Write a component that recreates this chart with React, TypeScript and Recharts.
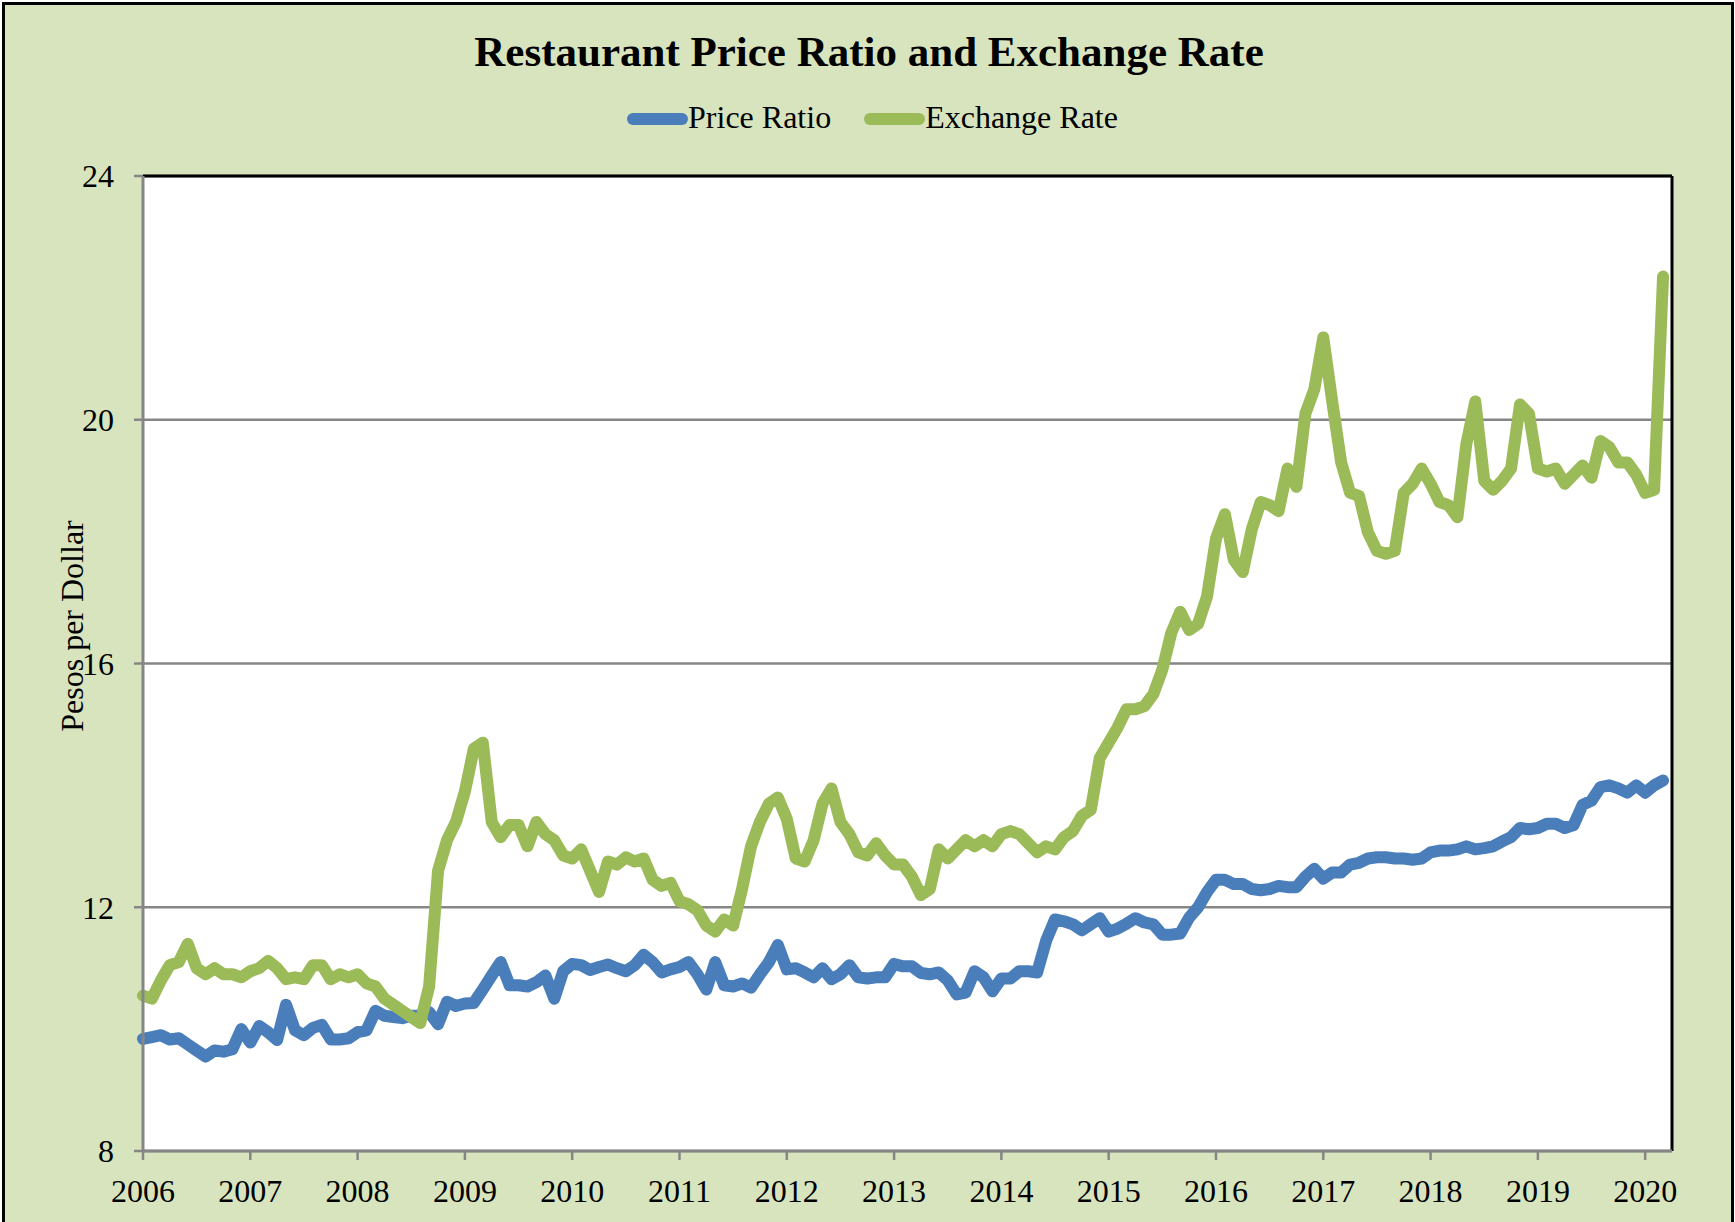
import React from 'react'
import { LineChart, Line, XAxis, YAxis, CartesianGrid, Legend, ReferenceLine } from 'recharts'

const BLUE = '#4A7EBB'
const GREEN = '#9BBB59'
const BG = '#D7E4BD'
const GRID = '#868686'
const FONT = '"Liberation Serif", "Times New Roman", serif'

const YEARS = [2006, 2007, 2008, 2009, 2010, 2011, 2012, 2013, 2014, 2015, 2016, 2017, 2018, 2019, 2020]
const Y_TICKS = [8, 12, 16, 20, 24]
const SERIES = [
  { key: 'priceRatio', name: 'Price Ratio', color: BLUE },
  { key: 'exchangeRate', name: 'Exchange Rate', color: GREEN },
]

// monthly, Jan 2006 .. Mar 2020
const priceRatio = [
  9.84, 9.87, 9.9, 9.83, 9.85, 9.75, 9.65, 9.55, 9.65, 9.63, 9.67, 10.0,
  9.78, 10.05, 9.95, 9.82, 10.4, 9.98, 9.9, 10.02, 10.07, 9.83, 9.83, 9.85,
  9.95, 9.98, 10.3, 10.22, 10.2, 10.18, 10.22, 10.22, 10.28, 10.08, 10.45, 10.38,
  10.42, 10.43, 10.65, 10.88, 11.1, 10.72, 10.72, 10.7, 10.77, 10.88, 10.5, 10.95,
  11.07, 11.05, 10.97, 11.02, 11.06, 11.0, 10.95, 11.05, 11.22, 11.1, 10.93, 10.98,
  11.02, 11.1, 10.9, 10.65, 11.1, 10.72, 10.7, 10.75, 10.68, 10.9, 11.1, 11.38,
  10.98, 11.0, 10.93, 10.85, 11.0, 10.82, 10.9, 11.05, 10.85, 10.83, 10.85, 10.85,
  11.07, 11.03, 11.03, 10.92, 10.9, 10.93, 10.8, 10.57, 10.6, 10.95, 10.85, 10.62,
  10.83, 10.83, 10.95, 10.95, 10.93, 11.45, 11.8, 11.77, 11.72, 11.62, 11.72, 11.82,
  11.6, 11.65, 11.73, 11.82, 11.75, 11.72, 11.55, 11.55, 11.57, 11.83, 12.0, 12.25,
  12.45, 12.45, 12.38, 12.38, 12.3, 12.28, 12.3, 12.35, 12.33, 12.33, 12.5, 12.63,
  12.47, 12.57, 12.57, 12.7, 12.73, 12.8, 12.82, 12.82, 12.8, 12.8, 12.78, 12.8,
  12.9, 12.93, 12.93, 12.95, 13.0, 12.95, 12.97, 13.0, 13.08, 13.15, 13.3, 13.28,
  13.3, 13.37, 13.37, 13.3, 13.35, 13.68, 13.75, 13.97, 14.0, 13.95, 13.88, 14.0,
  13.88, 14.0, 14.08,
]

const exchangeRate = [
  10.55, 10.5, 10.8, 11.05, 11.1, 11.4, 11.0, 10.9, 11.0, 10.9, 10.9, 10.85,
  10.95, 11.0, 11.12, 11.0, 10.82, 10.85, 10.82, 11.05, 11.05, 10.82, 10.9, 10.85,
  10.9, 10.75, 10.7, 10.5, 10.4, 10.3, 10.2, 10.1, 10.7, 12.6, 13.1, 13.4,
  13.9, 14.6, 14.7, 13.4, 13.15, 13.35, 13.35, 13.0, 13.4, 13.2, 13.1, 12.85,
  12.8, 12.95, 12.6, 12.25, 12.75, 12.7, 12.82, 12.75, 12.8, 12.45, 12.35, 12.4,
  12.1, 12.05, 11.95, 11.7, 11.6, 11.8, 11.7, 12.3, 13.0, 13.4, 13.7, 13.8,
  13.45, 12.8, 12.75, 13.1, 13.7, 13.95, 13.4, 13.2, 12.9, 12.85, 13.05, 12.85,
  12.7, 12.7, 12.5, 12.2, 12.3, 12.95, 12.8, 12.95, 13.1, 13.0, 13.1, 13.0,
  13.2, 13.25, 13.2, 13.05, 12.9, 13.0, 12.95, 13.15, 13.25, 13.5, 13.6, 14.45,
  14.7, 14.95, 15.25, 15.25, 15.3, 15.5, 15.9, 16.5, 16.85, 16.55, 16.65, 17.1,
  18.05, 18.45, 17.7, 17.5, 18.2, 18.65, 18.6, 18.5, 19.2, 18.9, 20.1, 20.5,
  21.35, 20.3, 19.3, 18.8, 18.75, 18.15, 17.85, 17.8, 17.85, 18.8, 18.95, 19.2,
  18.95, 18.65, 18.6, 18.4, 19.6, 20.3, 19.0, 18.85, 19.0, 19.2, 20.25, 20.1,
  19.2, 19.15, 19.2, 18.95, 19.1, 19.25, 19.05, 19.65, 19.55, 19.3, 19.3, 19.1,
  18.8, 18.85, 22.35,
]

const data = priceRatio.map((p, i) => ({
  month: i,
  priceRatio: p,
  exchangeRate: exchangeRate[i],
}))

const xTicks = YEARS.map((_, i) => i * 12)

// legend kept in series order (Recharts would sort it by name)
function LegendContent() {
  return (
    <div style={{
      display: 'flex', justifyContent: 'center', gap: 32, paddingLeft: 9,
      fontFamily: FONT, fontSize: 32, lineHeight: '36px', color: '#000',
    }}>
      {SERIES.map(s => (
        <div key={s.key} style={{ display: 'flex', alignItems: 'center' }}>
          <svg width={62} height={16} style={{ marginTop: 4 }}>
            <line x1={7} y1={8} x2={56} y2={8} stroke={s.color}
              strokeWidth={12} strokeLinecap="round" />
          </svg>
          <span>{s.name}</span>
        </div>
      ))}
    </div>
  )
}

function YLabel() {
  return (
    <text x={83} y={626} transform="rotate(-90 83 626)" textAnchor="middle"
      fontFamily={FONT} fontSize={32} fill="#000">
      Pesos per Dollar
    </text>
  )
}

export default function App() {
  const tickStyle = { fontFamily: FONT, fontSize: 32, fill: '#000' }
  return (
    <div style={{ position: 'absolute', left: 0, top: 0, width: 1735, height: 1222, overflow: 'hidden', background: '#fff' }}>
      {/* frame */}
      <div style={{
        position: 'absolute', left: 2, top: 2, width: 1732, height: 1240,
        boxSizing: 'border-box', border: '3px solid #000', background: BG,
      }} />
      <div style={{
        position: 'absolute', left: 0, top: 31, width: 1738, textAlign: 'center',
        fontFamily: FONT, fontWeight: 'bold', fontSize: 43, lineHeight: '42px', color: '#000',
      }}>
        Restaurant Price Ratio and Exchange Rate
      </div>
      <div style={{ position: 'absolute', left: 0, top: 0 }}>
        <LineChart width={1735} height={1222} data={data}
          margin={{ top: 176, right: 63, bottom: 11, left: 83 }}>
          <CartesianGrid horizontal vertical={false} stroke={GRID} strokeWidth={2.5} fill="#fff" />
          <XAxis type="number" dataKey="month" domain={[0, 171]} ticks={xTicks} interval={0}
            tickFormatter={(v: number) => String(2006 + v / 12)}
            height={60} tickSize={9} tickMargin={19} tick={tickStyle}
            axisLine={{ stroke: GRID, strokeWidth: 3 }} tickLine={{ stroke: GRID, strokeWidth: 2.5 }} />
          <YAxis type="number" domain={[8, 24]} ticks={Y_TICKS} interval={0} width={60}
            tickSize={9} tickMargin={20} tick={tickStyle}
            axisLine={{ stroke: GRID, strokeWidth: 3 }} tickLine={{ stroke: GRID, strokeWidth: 2.5 }}
            label={<YLabel />} />
          <ReferenceLine y={24} stroke="#000" strokeWidth={3} />
          <ReferenceLine x={171} stroke="#000" strokeWidth={3} />
          <Legend layout="horizontal" verticalAlign="middle" align="center"
            wrapperStyle={{ top: 99, left: 0, width: 1735 }}
            content={<LegendContent />} />
          {SERIES.map(s => (
            <Line key={s.key} type="linear" dataKey={s.key} name={s.name} stroke={s.color}
              strokeWidth={12} dot={false} strokeLinejoin="round" strokeLinecap="round"
              isAnimationActive={false} />
          ))}
        </LineChart>
      </div>
    </div>
  )
}
